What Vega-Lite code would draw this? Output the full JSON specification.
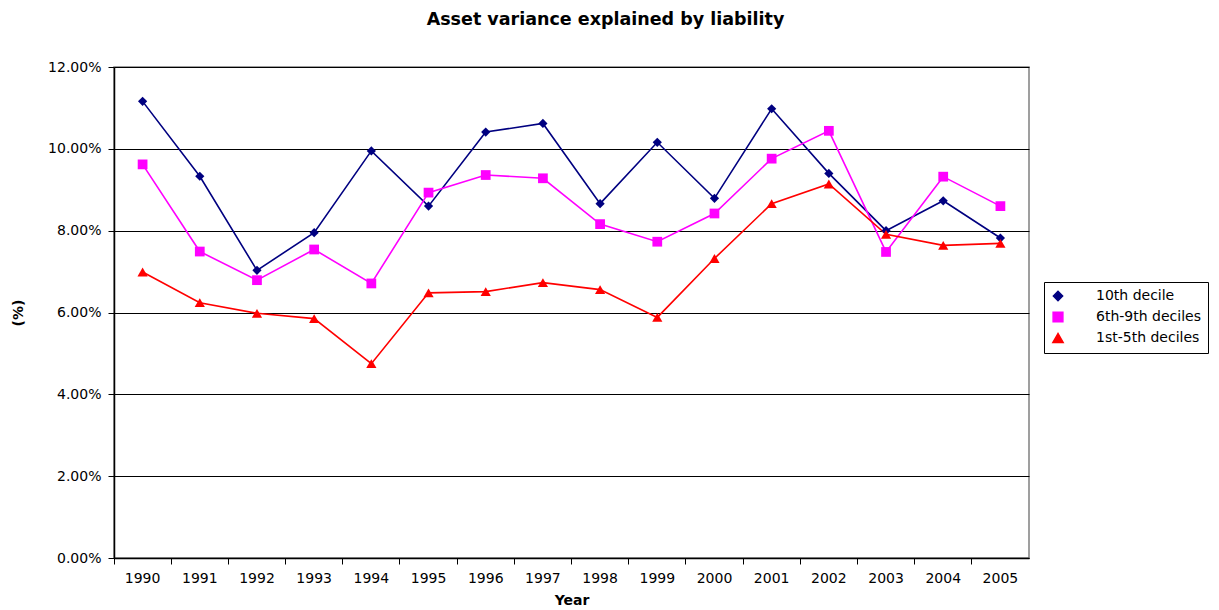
{
  "$schema": "https://vega.github.io/schema/vega-lite/v6.json",
  "autosize": {"type": "none"},
  "padding": {"left": 114, "top": 67, "right": 190, "bottom": 52},
  "width": 915,
  "height": 491,
  "title": {
    "text": "Asset variance explained by liability",
    "font": "DejaVu Sans",
    "fontSize": 17.5,
    "fontWeight": "bold",
    "color": "#000000",
    "anchor": "middle",
    "dx": 34,
    "offset": 32
  },
  "config": {
    "font": "DejaVu Sans",
    "view": {"stroke": "#808080", "strokeWidth": 1.5},
    "background": "white"
  },
  "data": {
    "values": [
      {"year": "1990", "series": "10th decile", "value": 0.1116},
      {"year": "1991", "series": "10th decile", "value": 0.0933},
      {"year": "1992", "series": "10th decile", "value": 0.0703},
      {"year": "1993", "series": "10th decile", "value": 0.0795},
      {"year": "1994", "series": "10th decile", "value": 0.0995},
      {"year": "1995", "series": "10th decile", "value": 0.0860},
      {"year": "1996", "series": "10th decile", "value": 0.1041},
      {"year": "1997", "series": "10th decile", "value": 0.1062},
      {"year": "1998", "series": "10th decile", "value": 0.0866},
      {"year": "1999", "series": "10th decile", "value": 0.1016},
      {"year": "2000", "series": "10th decile", "value": 0.0879},
      {"year": "2001", "series": "10th decile", "value": 0.1098},
      {"year": "2002", "series": "10th decile", "value": 0.0940},
      {"year": "2003", "series": "10th decile", "value": 0.0800},
      {"year": "2004", "series": "10th decile", "value": 0.0873},
      {"year": "2005", "series": "10th decile", "value": 0.0782},
      {"year": "1990", "series": "6th-9th deciles", "value": 0.0962},
      {"year": "1991", "series": "6th-9th deciles", "value": 0.0749},
      {"year": "1992", "series": "6th-9th deciles", "value": 0.0679},
      {"year": "1993", "series": "6th-9th deciles", "value": 0.0754},
      {"year": "1994", "series": "6th-9th deciles", "value": 0.0671},
      {"year": "1995", "series": "6th-9th deciles", "value": 0.0893},
      {"year": "1996", "series": "6th-9th deciles", "value": 0.0936},
      {"year": "1997", "series": "6th-9th deciles", "value": 0.0928},
      {"year": "1998", "series": "6th-9th deciles", "value": 0.0816},
      {"year": "1999", "series": "6th-9th deciles", "value": 0.0773},
      {"year": "2000", "series": "6th-9th deciles", "value": 0.0842},
      {"year": "2001", "series": "6th-9th deciles", "value": 0.0976},
      {"year": "2002", "series": "6th-9th deciles", "value": 0.1044},
      {"year": "2003", "series": "6th-9th deciles", "value": 0.0748},
      {"year": "2004", "series": "6th-9th deciles", "value": 0.0932},
      {"year": "2005", "series": "6th-9th deciles", "value": 0.0860},
      {"year": "1990", "series": "1st-5th deciles", "value": 0.0699},
      {"year": "1991", "series": "1st-5th deciles", "value": 0.0624},
      {"year": "1992", "series": "1st-5th deciles", "value": 0.0598},
      {"year": "1993", "series": "1st-5th deciles", "value": 0.0585},
      {"year": "1994", "series": "1st-5th deciles", "value": 0.0475},
      {"year": "1995", "series": "1st-5th deciles", "value": 0.0648},
      {"year": "1996", "series": "1st-5th deciles", "value": 0.0651},
      {"year": "1997", "series": "1st-5th deciles", "value": 0.0673},
      {"year": "1998", "series": "1st-5th deciles", "value": 0.0656},
      {"year": "1999", "series": "1st-5th deciles", "value": 0.0588},
      {"year": "2000", "series": "1st-5th deciles", "value": 0.0732},
      {"year": "2001", "series": "1st-5th deciles", "value": 0.0866},
      {"year": "2002", "series": "1st-5th deciles", "value": 0.0914},
      {"year": "2003", "series": "1st-5th deciles", "value": 0.0791},
      {"year": "2004", "series": "1st-5th deciles", "value": 0.0764},
      {"year": "2005", "series": "1st-5th deciles", "value": 0.0769}
    ]
  },
  "encoding": {
    "x": {
      "field": "year",
      "type": "ordinal",
      "scale": {"type": "band", "paddingInner": 0, "paddingOuter": 0},
      "axis": {
        "title": "Year",
        "titleFont": "DejaVu Sans",
        "titleFontSize": 14,
        "titleFontWeight": "bold",
        "titleColor": "#000000",
        "titlePadding": 8,
        "labelAngle": 0,
        "labelFont": "DejaVu Sans",
        "labelFontSize": 14,
        "labelColor": "#000000",
        "labelPadding": 7,
        "bandPosition": 0,
        "tickSize": 6,
        "tickColor": "#000000",
        "domainColor": "#000000",
        "domainWidth": 1.5,
        "grid": false
      }
    },
    "y": {
      "field": "value",
      "type": "quantitative",
      "scale": {"domain": [0, 0.12], "nice": false},
      "axis": {
        "title": "(%)",
        "titleFont": "DejaVu Sans",
        "titleFontSize": 14,
        "titleFontWeight": "bold",
        "titleColor": "#000000",
        "titlePadding": 22,
        "format": ".2%",
        "values": [0, 0.02, 0.04, 0.06, 0.08, 0.1, 0.12],
        "labelFont": "DejaVu Sans",
        "labelFontSize": 14,
        "labelColor": "#000000",
        "labelPadding": 7,
        "tickSize": 6,
        "tickColor": "#000000",
        "domainColor": "#000000",
        "domainWidth": 1.5,
        "grid": true,
        "gridColor": "#000000",
        "gridWidth": 1,
        "gridOpacity": 1
      }
    },
    "color": {
      "field": "series",
      "type": "nominal",
      "scale": {
        "domain": ["10th decile", "6th-9th deciles", "1st-5th deciles"],
        "range": ["#000080", "#FF00FF", "#FF0000"]
      },
      "legend": {
        "title": null,
        "orient": "none",
        "legendX": 930,
        "legendY": 215,
        "strokeColor": "#000000",
        "fillColor": "#ffffff",
        "padding": 7,
        "labelFont": "DejaVu Sans",
        "labelFontSize": 14,
        "labelColor": "#000000",
        "labelOffset": 31,
        "rowPadding": 5,
        "symbolSize": 100
      }
    }
  },
  "layer": [
    {
      "mark": {"type": "line", "strokeWidth": 1.6}
    },
    {
      "mark": {"type": "point", "filled": true, "opacity": 1},
      "encoding": {
        "shape": {
          "field": "series",
          "type": "nominal",
          "scale": {
            "domain": ["10th decile", "6th-9th deciles", "1st-5th deciles"],
            "range": ["diamond", "square", "triangle-up"]
          },
          "legend": null
        },
        "size": {
          "field": "series",
          "type": "nominal",
          "scale": {
            "domain": ["10th decile", "6th-9th deciles", "1st-5th deciles"],
            "range": [85, 105, 95]
          },
          "legend": null
        }
      }
    }
  ]
}
